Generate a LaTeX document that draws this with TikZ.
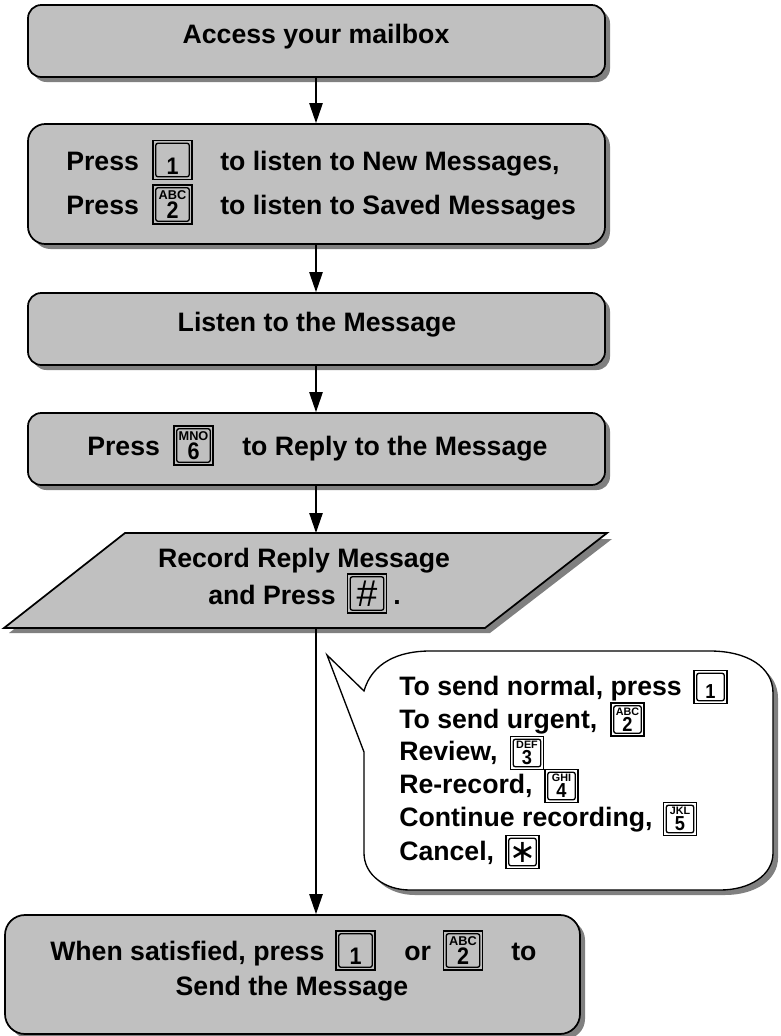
\documentclass[tikz,border=0pt]{standalone}
\usepackage{fontspec}
\setmainfont{Liberation Sans}
\newfontfamily\symfont{DejaVu Sans}
\usetikzlibrary{arrows.meta}
\definecolor{boxgray}{RGB}{192,192,192}
\definecolor{shadowgray}{RGB}{128,128,128}
\tikzset{
  x=0.75pt,y=-0.75pt,
  flowbox/.style={draw=black,line width=1.3pt,fill=boxgray,rounded corners=#1,inner sep=0pt},
  shadowshape/.style={fill=shadowgray,draw=none,rounded corners=#1},
  shadowshape/.default=11pt,
  lbl/.style={font=\fontsize{20}{24}\bfseries\selectfont,text=black,inner sep=0pt,anchor=base west},
  clbl/.style={lbl,anchor=base},
  conn/.style={draw=black,line width=1.1pt,-{Triangle[length=15pt,width=10pt]}},
  keyouter/.style={draw=black,line width=1pt,inner sep=0pt},
  keyinner/.style={draw=black,line width=1pt,rounded corners=1.5pt,inner sep=0pt},
}
% \keyframe{name}{cx}{cy}{size in px}
\newcommand{\keyframe}[4]{%
  \node[keyouter,minimum size=#4*0.75pt] (#1) at (#2,#3) {};
  \node[keyinner,minimum size=#4*0.75pt-4.2pt] (#1in) at (#2,#3) {};
}
% \keycap{name}{cx}{cy}{size}{letters}{digit}
\newcommand{\keycap}[6]{%
  \keyframe{#1}{#2}{#3}{#4}%
  \pgfmathsetmacro\kla{0.245*#4}%
  \pgfmathsetmacro\kdi{0.46*#4}%
  \node[inner sep=0pt,anchor=base,font=\fontsize{\kla}{\kla}\bfseries\selectfont] at (#2,{#3-0.125*#4}) {#5};
  \node[inner sep=0pt,anchor=base,xscale=0.9,font=\fontsize{\kdi}{\kdi}\bfseries\selectfont] at (#2,{#3+0.36*#4}) {#6};
}
% \boxnode{name}{x1}{y1}{x2}{y2}{radius}
\newcommand{\boxnode}[6]{%
  \fill[shadowshape=#6] (#2+5,#3+5) rectangle (#4+5,#5+5);
  \node[flowbox=#6,minimum width={(#4-#2)*0.75pt},minimum height={(#5-#3)*0.75pt}] (#1) at ({(#2+#4)/2},{(#3+#5)/2}) {};
}
\begin{document}
\begin{tikzpicture}
\useasboundingbox (0,0) rectangle (781,1036);
\coordinate (spine) at (316,0);

% boxes
\boxnode{b1}{28}{5}{605}{77}{10pt}
\boxnode{b2}{28}{124}{605}{244}{13pt}
\boxnode{b3}{28}{293}{605}{365}{10pt}
\boxnode{b4}{28}{413}{605}{485}{10pt}
\boxnode{b6}{5}{915}{580}{1034}{15pt}

% parallelogram
\fill[shadowgray] (131,539) -- (612,539) -- (490,633) -- (9,633) -- cycle;
\draw[line width=1.3pt,fill=boxgray] (125,533) -- (607,533) -- (485,628) -- (4,628) -- cycle;
\coordinate (b5n) at (316,533);
\coordinate (b5s) at (316,628);

% callout
\fill[shadowgray] (369,696) .. controls (377,668) and (403,656) .. (435,656)
  -- (715,656) .. controls (752,656) and (778,672) .. (778,698)
  -- (778,858) .. controls (778,880) and (755,895) .. (725,895)
  -- (415,895) .. controls (390,895) and (369,880) .. (369,858) -- cycle;
\draw[line width=1pt,fill=white,line join=miter] (327,655) -- (364,691)
  .. controls (372,663) and (398,651) .. (430,651)
  -- (710,651) .. controls (747,651) and (773,667) .. (773,693)
  -- (773,853) .. controls (773,875) and (750,890) .. (720,890)
  -- (410,890) .. controls (385,890) and (364,875) .. (364,853)
  -- (364,752) -- cycle;

% connectors
\draw[conn] (b1.south -| spine) -- (b2.north -| spine);
\draw[conn] (b2.south -| spine) -- (b3.north -| spine);
\draw[conn] (b3.south -| spine) -- (b4.north -| spine);
\draw[conn] (b4.south -| spine) -- (b5n);
\draw[conn] (b5s) -- (b6.north -| spine);

% box 1
\node[clbl] (t1) at (316,43) {Access your mailbox};

% box 2
\node[lbl] (t2a) at (66,170) {Press};
\keycap{k2a}{172.5}{160}{39}{}{1}
\node[lbl] (t2b) at (220,170) {to listen to New Messages,};
\node[lbl] (t2c) at (66,214) {Press};
\keycap{k2b}{172.5}{204.5}{39}{ABC}{2}
\node[lbl] (t2d) at (220,214) {to listen to Saved Messages};

% box 3
\node[clbl] (t3) at (317,331) {Listen to the Message};

% box 4
\node[lbl] (t4a) at (87,455) {Press};
\keycap{k4}{193.5}{445.5}{39}{MNO}{6}
\node[lbl] (t4b) at (242,455) {to Reply to the Message};

% box 5
\node[clbl] (t5a) at (304,567) {Record Reply Message};
\node[lbl] (t5b) at (208,604) {and Press};
\keyframe{k5}{367}{593.5}{39}
\node[inner sep=0pt,font=\fontsize{28}{28}\selectfont] at (k5.center) {\#};
\node[lbl] (t5c) at (393,604) {.};

% callout text
\node[lbl] (c1) at (399,695) {To send normal, press};
\keycap{kc1}{710.5}{687}{33}{}{1}
\node[lbl] (c2) at (399,728) {To send urgent,};
\keycap{kc2}{627.5}{719.5}{33}{ABC}{2}
\node[lbl] (c3) at (399,760) {Review,};
\keycap{kc3}{527}{753}{33}{DEF}{3}
\node[lbl] (c4) at (399,793) {Re-record,};
\keycap{kc4}{561.5}{786}{33}{GHI}{4}
\node[lbl] (c5) at (399,826) {Continue recording,};
\keycap{kc5}{680}{819}{33}{JKL}{5}
\node[lbl] (c6) at (399,860) {Cancel,};
\keyframe{kc6}{522.5}{852}{33}
\node[inner sep=0pt,font=\fontsize{24}{24}\symfont] at (kc6.center) {∗};

% box 6
\node[lbl] (t6a) at (50,960) {When satisfied, press};
\keycap{k6a}{355.5}{950.5}{39}{}{1}
\node[lbl] (t6b) at (404,960) {or};
\keycap{k6b}{463}{950.5}{39}{ABC}{2}
\node[lbl] (t6c) at (511,960) {to};
\node[clbl] (t6d) at (292,995) {Send the Message};
\end{tikzpicture}
\end{document}
